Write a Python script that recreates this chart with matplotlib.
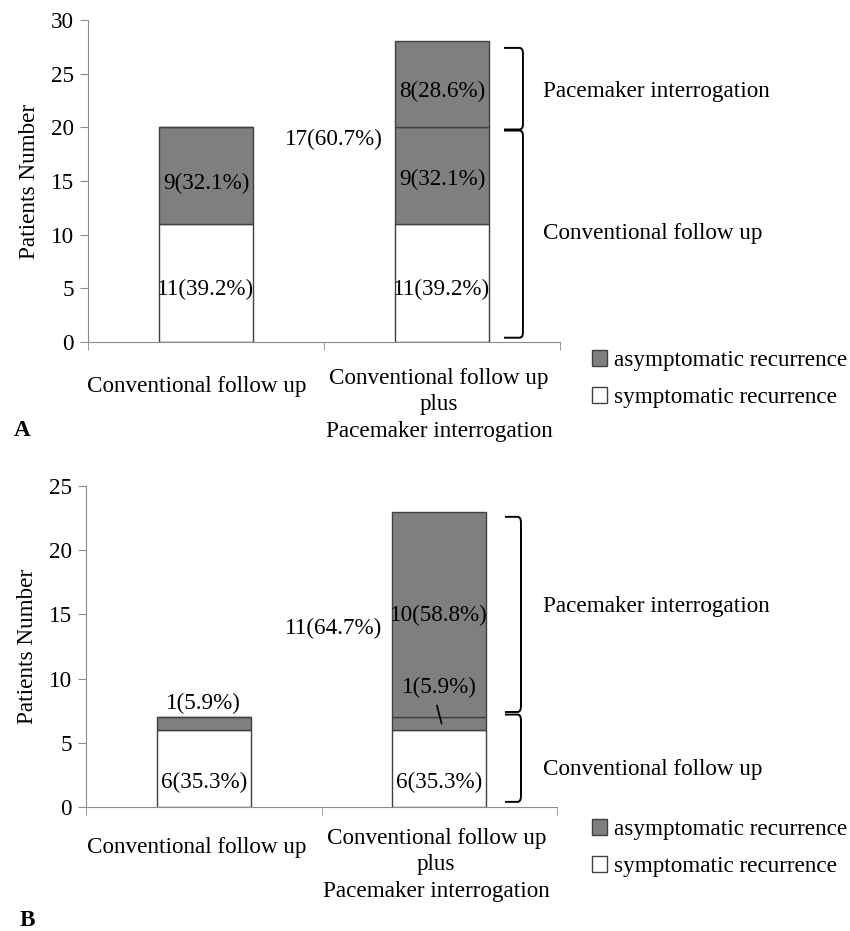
import numpy as np
import matplotlib
matplotlib.use("Agg")
import matplotlib.pyplot as plt
from matplotlib.path import Path
from matplotlib.patches import PathPatch
from matplotlib.transforms import ScaledTranslation

plt.rcParams['font.family'] = ['Liberation Serif', 'DejaVu Serif']
plt.rcParams['font.size'] = 16.7

# Data
categories = ["Conventional follow up", "Conventional follow up\nplus\nPacemaker interrogation"]

# Panel A
a_symptomatic = [11, 11]
a_asym_conv = [9, 9]
a_asym_pace = [0, 8]

# Panel B
b_symptomatic = [6, 6]
b_asym_conv = [1, 1]
b_asym_pace = [0, 16]

# bar annotations (category, y, text)
a_labels = [(0, 14.8, "9(32.1%)"), (0, 4.9, "11(39.2%)"),
            (1, 23.3, "8(28.6%)"), (1, 15.1, "9(32.1%)"), (1, 4.9, "11(39.2%)"),
            (0.54, 18.9, "17(60.7%)")]
b_labels = [(0, 8.1, "1(5.9%)"), (0, 1.9, "6(35.3%)"),
            (1, 14.9, "10(58.8%)"), (1, 9.3, "1(5.9%)"), (1, 1.9, "6(35.3%)"),
            (0.55, 13.9, "11(64.7%)")]

gray = '#7f7f7f'
edge = '#404040'
spine_c = '#8c8c8c'

fig = plt.figure(figsize=(8.5, 9.31), dpi=100)
axA = fig.add_axes([88/850, 1-342/931, 472/850, 322/931])
axB = fig.add_axes([86/850, 1-807/931, 471/850, 321/931])


def bracket(ax, x0, x1, ytop, ybot, rx, ry):
    verts = [(x0, ytop), (x1 - rx, ytop), (x1, ytop), (x1, ytop - ry),
             (x1, ybot + ry), (x1, ybot), (x1 - rx, ybot), (x0, ybot)]
    codes = [Path.MOVETO, Path.LINETO, Path.CURVE3, Path.CURVE3,
             Path.LINETO, Path.CURVE3, Path.CURVE3, Path.LINETO]
    ax.add_patch(PathPatch(Path(verts, codes), fill=False, lw=1.4,
                           edgecolor='black', clip_on=False))


def draw_panel(ax, sym, conv, pace, ymax, ystep, labels, shifts):
    x = np.arange(len(categories))
    sym = np.array(sym)
    conv = np.array(conv)
    pace = np.array(pace)
    b_sym = ax.bar(x, sym, width=0.4, color='white', edgecolor=edge, lw=1.0,
                   label='symptomatic recurrence')
    b_asym = ax.bar(x, conv, width=0.4, bottom=sym, color=gray, edgecolor=edge,
                    lw=1.0, label='asymptomatic recurrence')
    ax.bar(x, pace, width=0.4, bottom=sym + conv, color=gray, edgecolor=edge,
           lw=1.0)
    ax.set_xlim(-0.5, 1.5)
    ax.set_ylim(0, ymax)
    ax.set_yticks(np.arange(0, ymax + 1, ystep))
    ax.set_xticks(x)
    ax.set_xticklabels(categories, linespacing=1.36)
    ax.set_xticks([-0.5, 0.5, 1.5], minor=True)
    ax.tick_params(axis='x', which='major', length=0, pad=17)
    ax.tick_params(axis='x', which='minor', length=6, color=spine_c)
    ax.tick_params(axis='y', length=6, color=spine_c, pad=4)
    for s in ['top', 'right']:
        ax.spines[s].set_visible(False)
    for s in ['left', 'bottom']:
        ax.spines[s].set_color(spine_c)
    ax.set_ylabel("Patients Number", labelpad=8)
    # nudge category labels like the original
    for lab, (dx, dy) in zip(ax.get_xticklabels(), shifts):
        lab.set_transform(lab.get_transform() +
                          ScaledTranslation(dx / 100, -dy / 100, fig.dpi_scale_trans))
    for cx, cy, t in labels:
        ax.text(cx, cy, t, ha='center', va='center')
    return b_sym, b_asym


hA = draw_panel(axA, a_symptomatic, a_asym_conv, a_asym_pace, 30, 5, a_labels,
                [(-9, 10), (-3, 2)])
hB = draw_panel(axB, b_symptomatic, b_asym_conv, b_asym_pace, 25, 5, b_labels,
                [(-7, 6), (-3, -3)])

# pointer line for the small segment in panel B
axB.plot([0.99, 1.01], [7.9, 6.5], color='black', lw=1.2)

# brackets and group labels
bracket(axA, 1.263, 1.343, 27.4, 19.8, 0.015, 0.5)
bracket(axA, 1.263, 1.343, 19.7, 0.4, 0.015, 0.5)
axA.text(1.43, 23.3, "Pacemaker interrogation", va='center', ha='left', clip_on=False)
axA.text(1.43, 10.1, "Conventional follow up", va='center', ha='left', clip_on=False)

bracket(axB, 1.279, 1.347, 22.6, 7.4, 0.015, 0.45)
bracket(axB, 1.279, 1.347, 7.2, 0.4, 0.015, 0.45)
axB.text(1.44, 15.6, "Pacemaker interrogation", va='center', ha='left', clip_on=False)
axB.text(1.44, 2.9, "Conventional follow up", va='center', ha='left', clip_on=False)

# legends
for ax, h, ytop in [(axA, hA, 350), (axB, hB, 819)]:
    ax.legend([h[1], h[0]], ['asymptomatic recurrence', 'symptomatic recurrence'],
              loc='upper left', bbox_to_anchor=(592/850, 1 - ytop/931),
              bbox_transform=fig.transFigure, frameon=False,
              handlelength=0.65, handleheight=0.65, handletextpad=0.3,
              labelspacing=0.7, borderpad=0, borderaxespad=0)

fig.text(22/850, 1 - 431/931, "A", fontweight='bold', va='center', ha='center')
fig.text(27/850, 1 - 920/931, "B", fontweight='bold', va='center', ha='center')

fig.savefig("out.png", dpi=100)
